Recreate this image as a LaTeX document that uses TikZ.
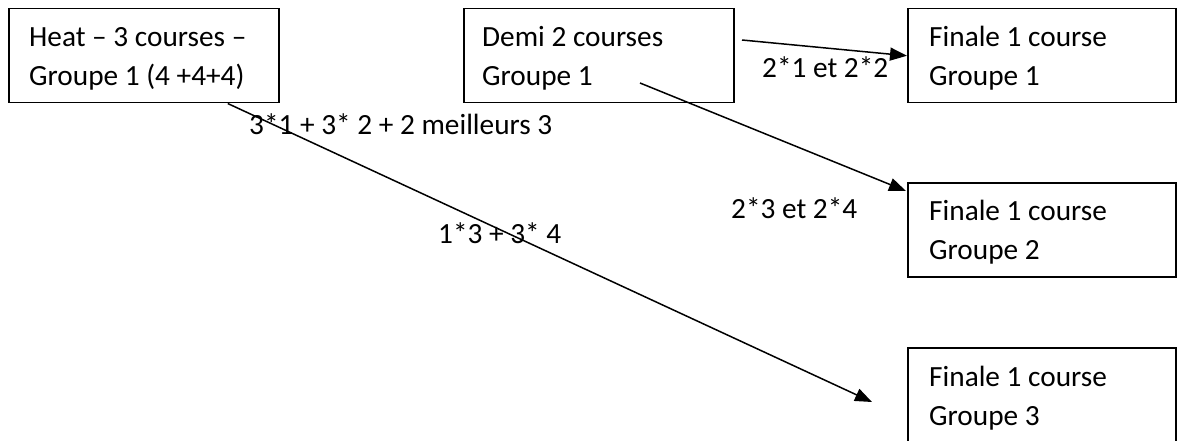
\documentclass[tikz,border=0pt]{standalone}
\usepackage{fontspec}
\setmainfont{Carlito}
\usetikzlibrary{arrows.meta}
\begin{document}
\begin{tikzpicture}[x=1pt,y=-1pt,
  box/.style={draw, line width=1.5pt, minimum width=270pt, minimum height=94pt, inner sep=0pt, anchor=north west},
  fbox/.style={box, minimum width=268pt},
  txt/.style={anchor=base west, inner sep=0pt, font=\fontsize{29.3}{39}\selectfont},
  conn/.style={line width=1.5pt, -{Triangle[length=17pt,width=13pt]}}]
\fill[white] (0,0) rectangle (1178,441);
\useasboundingbox (0,0) rectangle (1178,441);
% boxes
\node[box] (heat) at (8,8) {};
\node[box] (demi) at (463,8) {};
\node[fbox] (f1) at (907,8) {};
\node[fbox] (f2) at (907,182) {};
\node[fbox, minimum height=97pt] (f3) at (907,347) {};
% box texts
\node[txt] (heatA) at ([shift={(21,39)}]heat.north west) {Heat – 3 courses –};
\node[txt] (heatB) at ([shift={(21,78)}]heat.north west) {Groupe 1 (4 +4+4)};
\node[txt] (demiA) at ([shift={(19,39)}]demi.north west) {Demi 2 courses};
\node[txt] (demiB) at ([shift={(19,78)}]demi.north west) {Groupe 1};
\node[txt] (fA1) at ([shift={(22,39)}]f1.north west) {Finale 1 course};
\node[txt] (fB1) at ([shift={(22,78)}]f1.north west) {Groupe 1};
\node[txt] (fA2) at ([shift={(22,38)}]f2.north west) {Finale 1 course};
\node[txt] (fB2) at ([shift={(22,77)}]f2.north west) {Groupe 2};
\node[txt] (fA3) at ([shift={(22,39)}]f3.north west) {Finale 1 course};
\node[txt] (fB3) at ([shift={(22,78)}]f3.north west) {Groupe 3};
% connectors
\coordinate (s1) at (742,40);
\draw[conn] (s1) -- (f1.west);
\coordinate (s2) at (640,83);
\coordinate (e2) at (906,191);
\draw[conn] (s2) -- (e2);
\coordinate (s3) at ([shift={(84,0)}]heat.south);
\coordinate (e3) at (872,402);
\draw[conn] (s3) -- (e3);
% labels
\node[txt] (lab1) at (249,135) {3*1 + 3* 2 + 2 meilleurs 3};
\node[txt] (lab2) at (438,243) {1*3 + 3* 4};
\node[txt] (lab3) at (762,78) {2*1 et 2*2};
\node[txt] (lab4) at (731,218) {2*3 et 2*4};
\end{tikzpicture}
\end{document}
